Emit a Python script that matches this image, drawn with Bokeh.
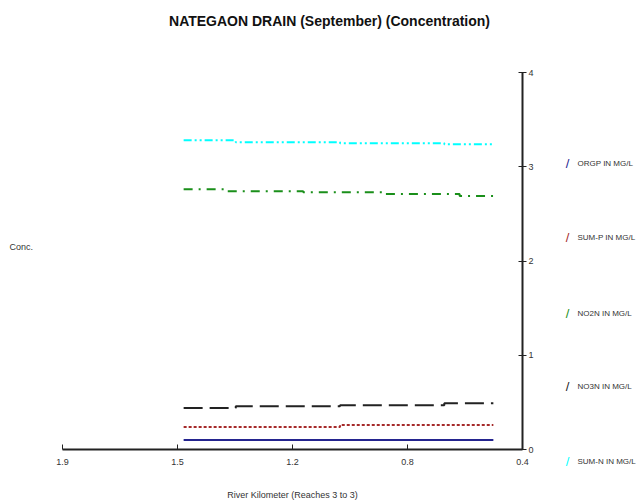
from bokeh.plotting import figure
from bokeh.models import Range1d, FixedTicker, Label, LinearAxis
from bokeh.embed import file_html
from bokeh.resources import INLINE

TITLE = "NATEGAON DRAIN (September) (Concentration)"
X_LABEL = "River Kilometer (Reaches 3 to 3)"
Y_LABEL = "Conc."

x_ticks = [1.875, 1.5, 1.125, 0.75, 0.375]
x_tick_labels = ["1.9", "1.5", "1.2", "0.8", "0.4"]
y_ticks = [0, 1, 2, 3, 4]

orgp_km = [1.48, 0.47]
orgp = [0.10, 0.10]
sump_km = [1.48, 0.97, 0.47]
sump = [0.24, 0.26, 0.26]
no3n_km = [1.48, 1.31, 0.97, 0.63, 0.47]
no3n = [0.44, 0.46, 0.47, 0.49, 0.49]
no2n_km = [1.48, 1.34, 1.09, 0.83, 0.58, 0.47]
no2n = [2.76, 2.74, 2.73, 2.71, 2.69, 2.69]
sumn_km = [1.48, 1.31, 0.97, 0.63, 0.47]
sumn = [3.28, 3.26, 3.25, 3.24, 3.24]

series_names = ["ORGP IN MG/L", "SUM-P IN MG/L", "NO2N IN MG/L", "NO3N IN MG/L", "SUM-N IN MG/L"]
series_colors = ["#24248f", "#a52a2a", "#1a8f1a", "#222222", "#00ffff"]

FONT = "Liberation Sans"
W, H = 641, 504
# plot area in canvas pixels: x 62..522, y 72..449
FX0, FX1, FY0, FY1 = 62, 522, 72, 449
kx = (x_ticks[0] - x_ticks[-1]) / (FX1 - FX0)
ky = (y_ticks[-1] - y_ticks[0]) / (FY1 - FY0)
x_range = Range1d(x_ticks[0] + FX0 * kx, x_ticks[-1] - (W - FX1) * kx)
y_range = Range1d(y_ticks[0] - (H - FY1) * ky, y_ticks[-1] + FY0 * ky)

p = figure(width=W, height=H, x_range=x_range, y_range=y_range,
           output_backend="svg", toolbar_location=None,
           x_axis_location=None, y_axis_location=None,
           min_border=0)
p.outline_line_color = None
p.xgrid.visible = False
p.ygrid.visible = False
p.background_fill_color = "white"
p.border_fill_color = "white"

p.step(orgp_km, orgp, mode="after", line_color=series_colors[0], line_width=2)
p.step(sump_km, sump, mode="after", line_color=series_colors[1], line_width=2, line_dash="3 2")
p.step(no2n_km, no2n, mode="after", line_color=series_colors[2], line_width=2, line_dash="9 6 2 6")
p.step(no3n_km, no3n, mode="after", line_color=series_colors[3], line_width=2, line_dash="19 7")
p.step(sumn_km, sumn, mode="after", line_color=series_colors[4], line_width=2, line_dash="8 3 2 3 2 3")

xa = LinearAxis(fixed_location=y_ticks[0], bounds=(x_ticks[-1], x_ticks[0]))
xa.ticker = FixedTicker(ticks=x_ticks)
xa.major_label_overrides = {t: s for t, s in zip(x_ticks, x_tick_labels)}
xa.minor_tick_line_color = None
xa.major_tick_in = 5
xa.major_tick_out = 0
xa.axis_line_color = "#222222"
xa.major_tick_line_color = "#222222"
xa.axis_line_width = 2
xa.major_label_text_font = FONT
xa.major_label_text_font_size = "9px"
xa.major_label_text_color = "#333333"
xa.major_label_standoff = 9
xa.axis_label = X_LABEL
xa.axis_label_text_font = FONT
xa.axis_label_text_font_size = "9px"
xa.axis_label_text_font_style = "normal"
xa.axis_label_text_color = "#333333"
xa.axis_label_standoff = 22
p.add_layout(xa, "below")

ya = LinearAxis(fixed_location=x_ticks[-1], bounds=(y_ticks[0], y_ticks[-1]))
ya.ticker = FixedTicker(ticks=y_ticks)
ya.minor_tick_line_color = None
ya.major_tick_in = 4
ya.major_tick_out = 4
ya.axis_line_color = "#222222"
ya.major_tick_line_color = "#222222"
ya.axis_line_width = 2
ya.major_label_text_font = FONT
ya.major_label_text_font_size = "9px"
ya.major_label_text_color = "#333333"
ya.major_label_standoff = 2
p.add_layout(ya, "right")

# title and y label (canvas pixels, y measured from bottom)
p.add_layout(Label(x=329, y=H - 20, x_units="screen", y_units="screen", text=TITLE,
                   text_font=FONT, text_font_size="14px", text_font_style="bold",
                   text_align="center", text_baseline="middle", text_color="#111111"))
p.add_layout(Label(x=9, y=H - 246, x_units="screen", y_units="screen", text=Y_LABEL,
                   text_font=FONT, text_font_size="9px", text_align="left",
                   text_baseline="middle", text_color="#333333"))

legend_py = [163, 237, 313, 386, 461]
for name, col, py in zip(series_names, series_colors, legend_py):
    p.add_layout(Label(x=567, y=H - py, x_units="screen", y_units="screen", text="/",
                       text_font=FONT, text_font_size="13px", text_align="center",
                       text_baseline="middle", text_color=col))
    p.add_layout(Label(x=577, y=H - py, x_units="screen", y_units="screen", text=name,
                       text_font=FONT, text_font_size="8px", text_align="left",
                       text_baseline="middle", text_color="#333333"))

open("out.html", "w").write(file_html(p, INLINE))
